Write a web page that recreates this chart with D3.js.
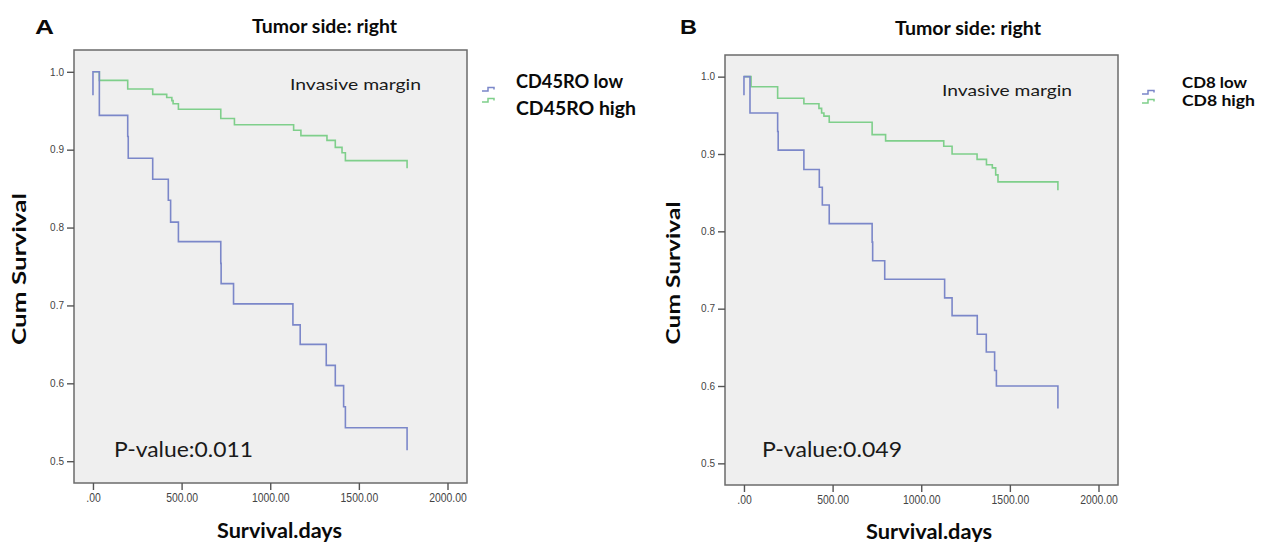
<!DOCTYPE html>
<html>
<head>
<meta charset="utf-8">
<script src="https://cdn.jsdelivr.net/npm/d3@7"></script>
<style>
  body { margin: 0; background: #fff; }
  svg { display: block; }
</style>
</head>
<body>
<svg id="chart" width="1263" height="542"></svg>
<script>
"use strict";

// Kaplan-Meier steps: [days], [cum survival]
// first pair of the "low" curves and the last point of every curve are censor ticks
const cd45LowDays  = [0, 0, 36, 196, 199, 337, 425, 438, 482, 721, 723, 793, 1128, 1169, 1316, 1367, 1414, 1424, 1772];
const cd45LowSurv  = [0.97, 1.0, 0.944, 0.917, 0.889, 0.862, 0.835, 0.807, 0.782, 0.754, 0.728, 0.702, 0.675, 0.650, 0.623, 0.597, 0.570, 0.543, 0.514];
const cd45HighDays = [0, 36, 196, 337, 416, 445, 452, 482, 721, 798, 1132, 1173, 1320, 1367, 1405, 1424, 1772];
const cd45HighSurv = [1.0, 0.989, 0.978, 0.971, 0.967, 0.963, 0.959, 0.952, 0.940, 0.932, 0.925, 0.918, 0.912, 0.903, 0.896, 0.886, 0.876];

const cd8LowDays  = [0, 0, 34, 190, 193, 338, 425, 442, 481, 723, 726, 794, 1132, 1174, 1316, 1367, 1414, 1424, 1771];
const cd8LowSurv  = [0.976, 1.0, 0.953, 0.929, 0.905, 0.880, 0.857, 0.834, 0.810, 0.786, 0.762, 0.738, 0.714, 0.691, 0.667, 0.644, 0.620, 0.600, 0.571];
const cd8HighDays = [0, 40, 190, 338, 423, 438, 451, 481, 723, 799, 1127, 1174, 1315, 1368, 1401, 1420, 1433, 1771];
const cd8HighSurv = [1.0, 0.987, 0.972, 0.965, 0.959, 0.953, 0.949, 0.941, 0.925, 0.917, 0.910, 0.900, 0.893, 0.886, 0.882, 0.873, 0.864, 0.853];

const xTicks = [0, 500, 1000, 1500, 2000];
const yTicks = [0.5, 0.6, 0.7, 0.8, 0.9, 1.0];

const lowColor = "#7b87c9";
const highColor = "#7fcf8b";
const textFont = "Lato, 'Open Sans', sans-serif";
const axisFont = "'Liberation Sans', Arial, sans-serif";

const panels = [
  {
    letter: "A", pValue: "P-value:0.011",
    low: { name: "CD45RO low", days: cd45LowDays, surv: cd45LowSurv },
    high: { name: "CD45RO high", days: cd45HighDays, surv: cd45HighSurv },
    box: { left: 74, right: 467, top: 50, bottom: 483 },
    letterPos: [35, 34, 19], titlePos: [252, 33, 145],
    marginPos: [290, 90, 131], pPos: [114, 457, 139],
    xTitlePos: [217, 538, 125], yTitlePos: [26, 269, 152],
    legend: { sym: 482, text: 516, size: 18, low: [88, 107], high: [115, 120], symLow: 91, symHigh: 102 }
  },
  {
    letter: "B", pValue: "P-value:0.049",
    low: { name: "CD8 low", days: cd8LowDays, surv: cd8LowSurv },
    high: { name: "CD8 high", days: cd8HighDays, surv: cd8HighSurv },
    box: { left: 725, right: 1118, top: 55, bottom: 485 },
    letterPos: [680, 34, 17], titlePos: [895, 35, 146],
    marginPos: [942, 96, 130], pPos: [762, 457, 140],
    xTitlePos: [866, 539, 126], yTitlePos: [680, 273, 143],
    legend: { sym: 1142, text: 1182, size: 15.5, low: [88, 65], high: [106, 73], symLow: 94, symHigh: 103 }
  }
];

const svg = d3.select("#chart");

// stretch a text to the width it has in the figure
function fit(sel, w) {
  sel.attr("textLength", w).attr("lengthAdjust", "spacingAndGlyphs");
}

function label(g, txt, pos, size, weight, family) {
  g.append("text")
    .attr("x", pos[0]).attr("y", pos[1])
    .attr("font-family", family || textFont)
    .attr("font-size", size)
    .attr("font-weight", weight)
    .attr("fill", weight === "bold" ? "#0a0a0a" : "#1a1a1a")
    .text(txt)
    .call(fit, pos[2]);
}

function makePanel(p) {
  const g = svg.append("g");
  const b = p.box;

  const x = d3.scaleLinear().domain([-107, 2110]).range([b.left, b.right]);
  const y = d3.scaleLinear().domain([0.472, 1.028]).range([b.bottom, b.top]);

  g.append("rect")
    .attr("x", b.left).attr("y", b.top)
    .attr("width", b.right - b.left).attr("height", b.bottom - b.top)
    .attr("fill", "#efefef")
    .attr("stroke", "#6b6b6b")
    .attr("stroke-width", 1.5);

  // axes
  const xAxis = g.append("g")
    .attr("transform", "translate(0," + b.bottom + ")")
    .call(d3.axisBottom(x).tickValues(xTicks).tickSize(7)
      .tickFormat(d => d === 0 ? ".00" : d.toFixed(2)));
  xAxis.select(".domain").remove();
  xAxis.selectAll("line").attr("stroke", "#555").attr("stroke-width", 1.4);
  xAxis.selectAll("text")
    .attr("font-family", axisFont)
    .attr("font-size", 13)
    .attr("fill", "#444")
    .each(function () {
      d3.select(this).call(fit, this.getComputedTextLength() * 0.8);
    });

  const yAxis = g.append("g")
    .attr("transform", "translate(" + b.left + ",0)")
    .call(d3.axisLeft(y).tickValues(yTicks).tickSize(7).tickFormat(d3.format(".1f")));
  yAxis.select(".domain").remove();
  yAxis.selectAll("line").attr("stroke", "#555").attr("stroke-width", 1.4);
  yAxis.selectAll("text")
    .attr("font-family", axisFont)
    .attr("font-size", 10)
    .attr("fill", "#444");

  // survival curves
  const line = d3.line()
    .x(d => x(d[0]))
    .y(d => y(d[1]))
    .curve(d3.curveStepAfter);

  [[p.high, highColor], [p.low, lowColor]].forEach(([s, c]) => {
    g.append("path")
      .datum(d3.zip(s.days, s.surv))
      .attr("fill", "none")
      .attr("stroke", c)
      .attr("stroke-width", 1.6)
      .attr("d", line);
  });

  // texts
  label(g, p.letter, p.letterPos, 21, "bold", axisFont);
  label(g, "Tumor side: right", p.titlePos, 18, "bold");
  label(g, "Invasive margin", p.marginPos, 16, "normal");
  label(g, p.pValue, p.pPos, 21, "normal");
  label(g, "Survival.days", p.xTitlePos, 21, "bold");

  g.append("text")
    .attr("transform", "translate(" + p.yTitlePos[0] + "," + p.yTitlePos[1] + ") rotate(-90)")
    .attr("text-anchor", "middle")
    .attr("font-family", textFont)
    .attr("font-size", 18)
    .attr("font-weight", "bold")
    .attr("fill", "#0a0a0a")
    .text("Cum Survival")
    .call(fit, p.yTitlePos[2]);

  // legend
  const lg = p.legend;
  [[p.low, lowColor, lg.low, lg.symLow], [p.high, highColor, lg.high, lg.symHigh]].forEach(([s, c, t, sy]) => {
    g.append("path")
      .attr("d", "M" + lg.sym + "," + sy + "h6v-3.5h6v2")
      .attr("fill", "none")
      .attr("stroke", c)
      .attr("stroke-width", 1.5);
    label(g, s.name, [lg.text, t[0], t[1]], lg.size, "bold");
  });
}

panels.forEach(makePanel);
</script>
</body>
</html>
